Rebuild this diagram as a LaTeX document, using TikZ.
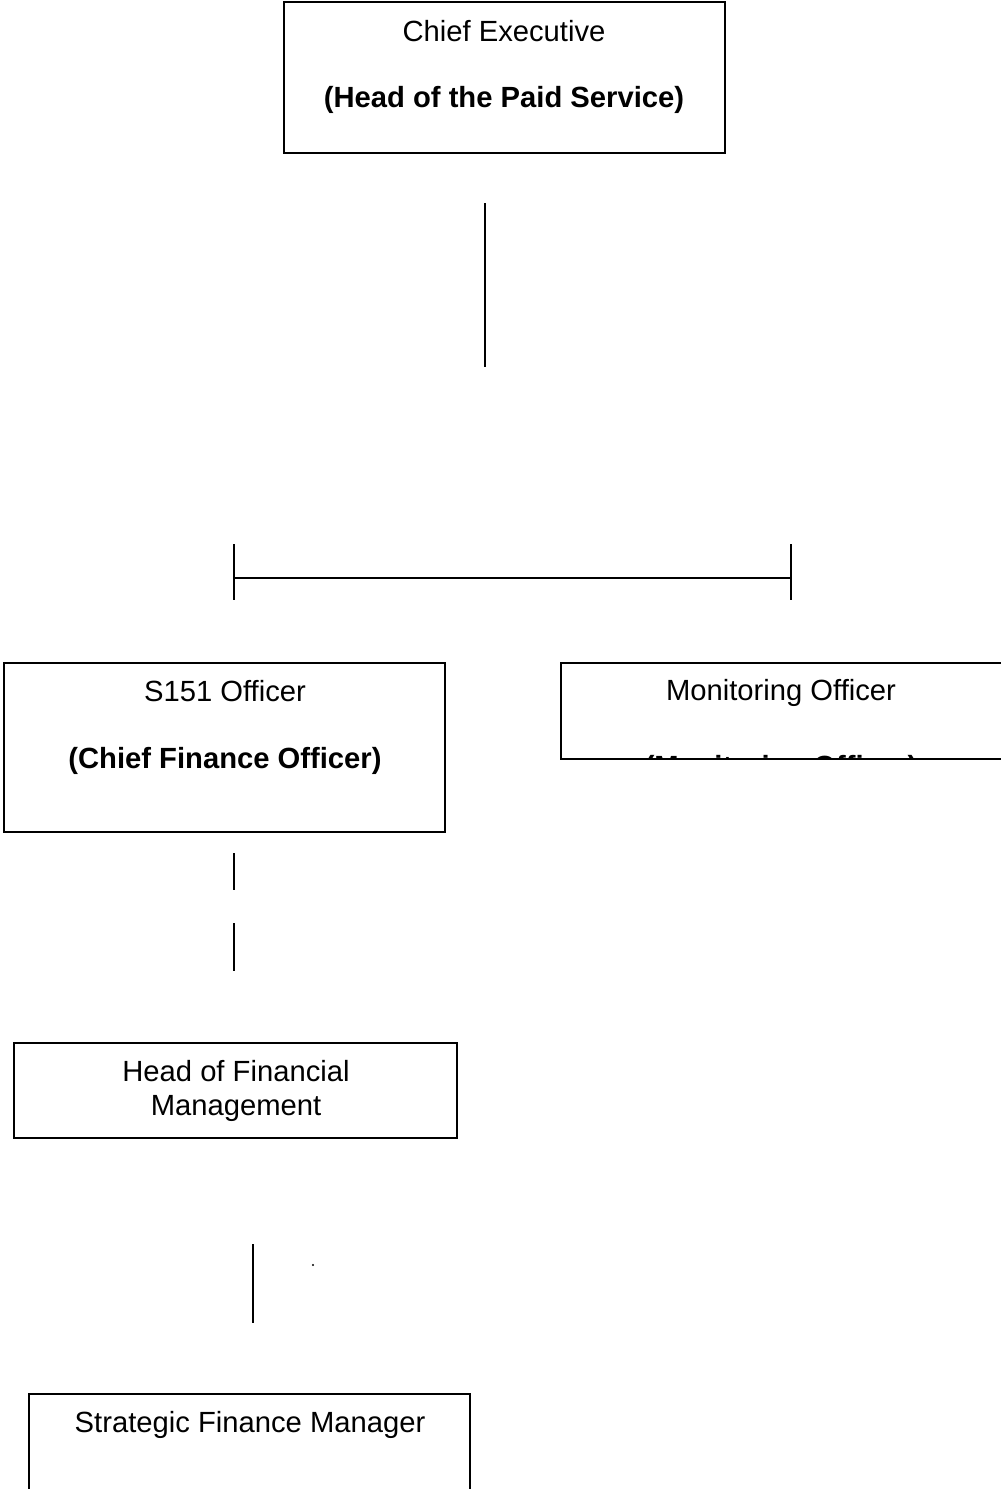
\documentclass[tikz,border=0pt]{standalone}
\usepackage{fontspec}
\setmainfont{Liberation Sans}
\begin{document}
\begin{tikzpicture}[x=0.5pt,y=-0.5pt,
  frame/.style={draw,line width=1pt},
  lbl/.style={inner sep=0pt,font=\fontsize{14.6}{17}\selectfont},
  blbl/.style={inner sep=0pt,font=\fontsize{14.6}{17}\selectfont\bfseries},
  conn/.style={line width=1pt}]
\useasboundingbox (0,0) rectangle (1001,1489);
% Chief Executive
\draw[frame] (284,2) rectangle (725,153);
\node[lbl] (ce1) at (504,31) {Chief Executive};
\node[blbl] (ce2) at (504,100) {(Head of the Paid Service)};
% vertical connector
\coordinate (v1a) at (485,203);
\coordinate (v1b) at (485,367);
\draw[conn] (v1a) -- (v1b);
% horizontal bar with ticks
\coordinate (hl) at (234,578);
\coordinate (hr) at (791,578);
\coordinate (tlt) at (234,544); \coordinate (tlb) at (234,600);
\coordinate (trt) at (791,544); \coordinate (trb) at (791,600);
\draw[conn] (hl) -- (hr);
\draw[conn] (tlt) -- (tlb);
\draw[conn] (trt) -- (trb);
% S151
\draw[frame] (4,663) rectangle (445,832);
\node[lbl] (s1) at (225,691) {S151 Officer};
\node[blbl] (s2) at (225,761) {(Chief Finance Officer)};
% Monitoring
\draw[frame] (1010,663) -- (561,663) -- (561,759) -- (1010,759);
\node[lbl] (m1) at (781,693) {Monitoring Officer};
\begin{scope}
\clip (562,664) rectangle (1001,758);
\node[blbl] (m2) at (781,769) {(Monitoring Officer)};
\end{scope}
% connectors below S151
\coordinate (c2a) at (234,853); \coordinate (c2b) at (234,890);
\coordinate (c3a) at (234,923); \coordinate (c3b) at (234,971);
\draw[conn] (c2a) -- (c2b);
\draw[conn] (c3a) -- (c3b);
% Head of Financial Management
\draw[frame] (14,1043) rectangle (457,1138);
\node[lbl,align=center] (hfm) at (236,1091) {Head of Financial\\Management};
% connector
\coordinate (c4a) at (253,1244); \coordinate (c4b) at (253,1323);
\draw[conn] (c4a) -- (c4b);
\fill (313,1265) circle (1.2);
% Strategic Finance Manager
\draw[frame] (29,1500) -- (29,1394) -- (470,1394) -- (470,1500);
\node[lbl] (sfm) at (250,1425) {Strategic Finance Manager};
\end{tikzpicture}
\end{document}
